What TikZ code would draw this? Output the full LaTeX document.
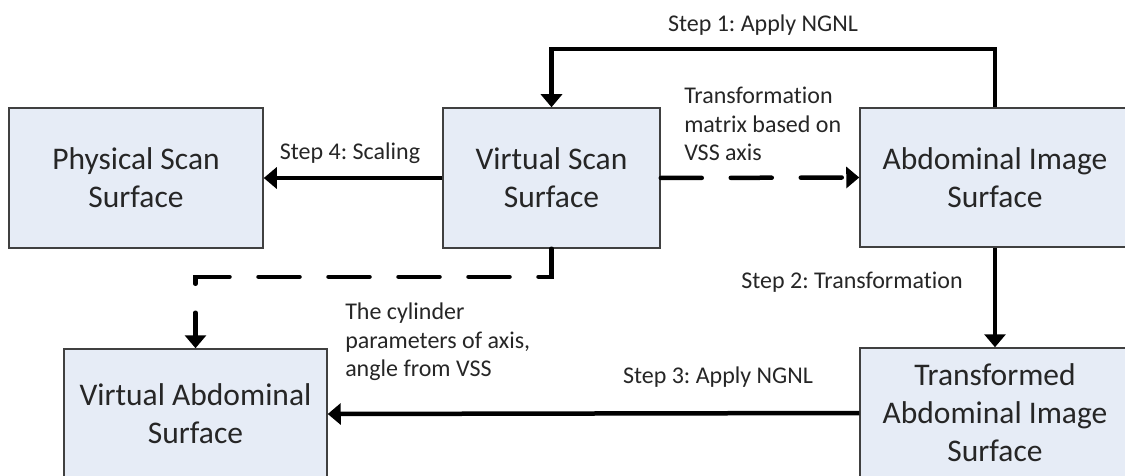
\documentclass[tikz,border=0pt]{standalone}
\usepackage{fontspec}
\setmainfont{Carlito}[Ligatures=NoCommon]
\frenchspacing
\usetikzlibrary{arrows.meta}
\definecolor{boxfill}{RGB}{230,236,246}
\definecolor{boxline}{RGB}{64,64,64}
\definecolor{txt}{RGB}{38,38,38}
\begin{document}
\begin{tikzpicture}[x=1pt,y=-1pt,line width=4.5pt,>={Triangle[length=13pt,width=21pt]},
    surf/.style={draw=boxline,line width=1.5pt,fill=boxfill,text=txt,align=center,
        inner sep=0pt,font=\fontsize{31.5}{38}\selectfont},
    lab/.style={text=txt,inner sep=0pt,font=\fontsize{24}{28.5}\selectfont},
    dsh/.style={dash pattern=on 41pt off 29pt,line cap=round}]
    \useasboundingbox (0,0) rectangle (1125,476);
    % surfaces
    \node[surf,minimum width=254pt,minimum height=140pt] (phys) at (136,178) {Physical Scan\\Surface};
    \node[surf,minimum width=217pt,minimum height=140pt] (vss) at (551.5,178) {Virtual Scan\\Surface};
    \node[surf,minimum width=270pt,minimum height=139pt] (ais) at (995,177.5) {Abdominal Image\\Surface};
    \node[surf,minimum width=270pt,minimum height=130pt] (tais) at (995,413) {Transformed\\Abdominal Image\\Surface};
    \node[surf,minimum width=263pt,minimum height=130pt] (vas) at (195.5,414) {Virtual Abdominal\\Surface};
    % steps
    \draw[->] (ais.north) -- ++(0,-58) -| (vss.north);
    \draw[->] (vss.west) -- (phys.east);
    \draw[->] (ais.south) -- (tais.north);
    \draw[->] (tais.west) -- (vas.east);
    \draw[->,dsh] (vss.east) -- (ais.west);
    \draw[->,dsh] (vss.south) -- ++(0,28) -| (vas.north);
    \node[lab] (s1) at (763,25) {Step 1: Apply NGNL};
    \node[lab] (s4) at (350,153) {Step 4: Scaling};
    \node[lab] (s2) at (852,282) {Step 2: Transformation};
    \node[lab] (s3) at (718,377) {Step 3: Apply NGNL};
    \node[lab,align=left,anchor=west] (mat) at (682,124) {Transformation\\matrix based on\\VSS axis};
    \node[lab,align=left,anchor=west] (cyl) at (343,342) {The cylinder\\parameters of axis,\\angle from VSS};
\end{tikzpicture}
\end{document}
